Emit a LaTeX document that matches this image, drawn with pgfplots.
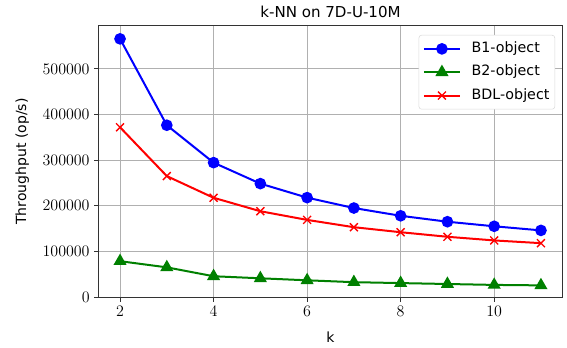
\documentclass[border=0pt]{standalone}
\usepackage{pgfplots}
\pgfplotsset{compat=1.18}
\usepackage{fontspec}
\setmainfont{DejaVu Sans}
\definecolor{mplgreen}{rgb}{0,0.5,0}
\definecolor{gridgray}{HTML}{B0B0B0}
\begin{document}
\begin{tikzpicture}
\useasboundingbox (-74.25pt,-37.5pt) rectangle (351pt,222.75pt);
\begin{axis}[
  scale only axis,
  width=347.25pt, height=203.25pt,
  xmin=1.55, xmax=11.45, ymin=0, ymax=594000,
  xtick={2,4,6,8,10},
  ytick={0,100000,200000,300000,400000,500000},
  scaled y ticks=false,
  yticklabel style={/pgf/number format/fixed, /pgf/number format/1000 sep={}},
  tick label style={font=\fontsize{12}{14}\selectfont},
  grid=major,
  major grid style={gridgray, line width=0.6pt},
  axis line style={line width=0.75pt, black!80},
  tick align=outside,
  tick pos=left,
  major tick length=3.5pt,
  every tick/.style={black!80, line width=0.6pt},
  title={k-NN on 7D-U-10M},
  title style={font=\fontsize{11.3}{13}\selectfont, yshift=-3pt},
  xlabel={k},
  ylabel={Throughput (op/s)},
  label style={font=\fontsize{10.5}{12}\selectfont},
  xlabel style={at={(axis description cs:0.5,-0.148)}, anchor=center},
  ylabel style={at={(axis description cs:-0.166,0.5)}, anchor=center},
  legend style={at={(0.985,0.967)}, anchor=north east, draw=black!15, rounded corners=2pt,
    font=\fontsize{10.7}{13}\selectfont, inner xsep=3pt, inner ysep=4pt, row sep=5pt,
    nodes={inner sep=1pt, text height=8pt, text depth=2.5pt},
    /tikz/every odd column/.append style={column sep=7pt},
    cells={anchor=west}},
  legend image code/.code={
    \draw[mark repeat=2,mark phase=2,#1] plot coordinates {(0pt,0pt) (13.5pt,0pt) (27pt,0pt)};},
]
\addplot[color=blue, line width=1.5pt, mark=*, mark size=3.6pt] coordinates {
(2,565800) (3,376500) (4,294500) (5,248500) (6,217800) (7,195000) (8,178000) (9,165000) (10,155000) (11,146000)};
\addlegendentry{B1-object}
\addplot[color=mplgreen, line width=1.5pt, mark=triangle*, mark size=4.2pt] coordinates {
(2,78500) (3,65000) (4,45500) (5,41000) (6,36600) (7,32500) (8,30500) (9,28500) (10,26500) (11,25500)};
\addlegendentry{B2-object}
\addplot[color=red, line width=1.5pt, mark=x, mark size=4.2pt, mark options={line width=1pt}] coordinates {
(2,372000) (3,265000) (4,217500) (5,188000) (6,169000) (7,153000) (8,142000) (9,132000) (10,124000) (11,118000)};
\addlegendentry{BDL-object}
\end{axis}
\end{tikzpicture}
\end{document}
